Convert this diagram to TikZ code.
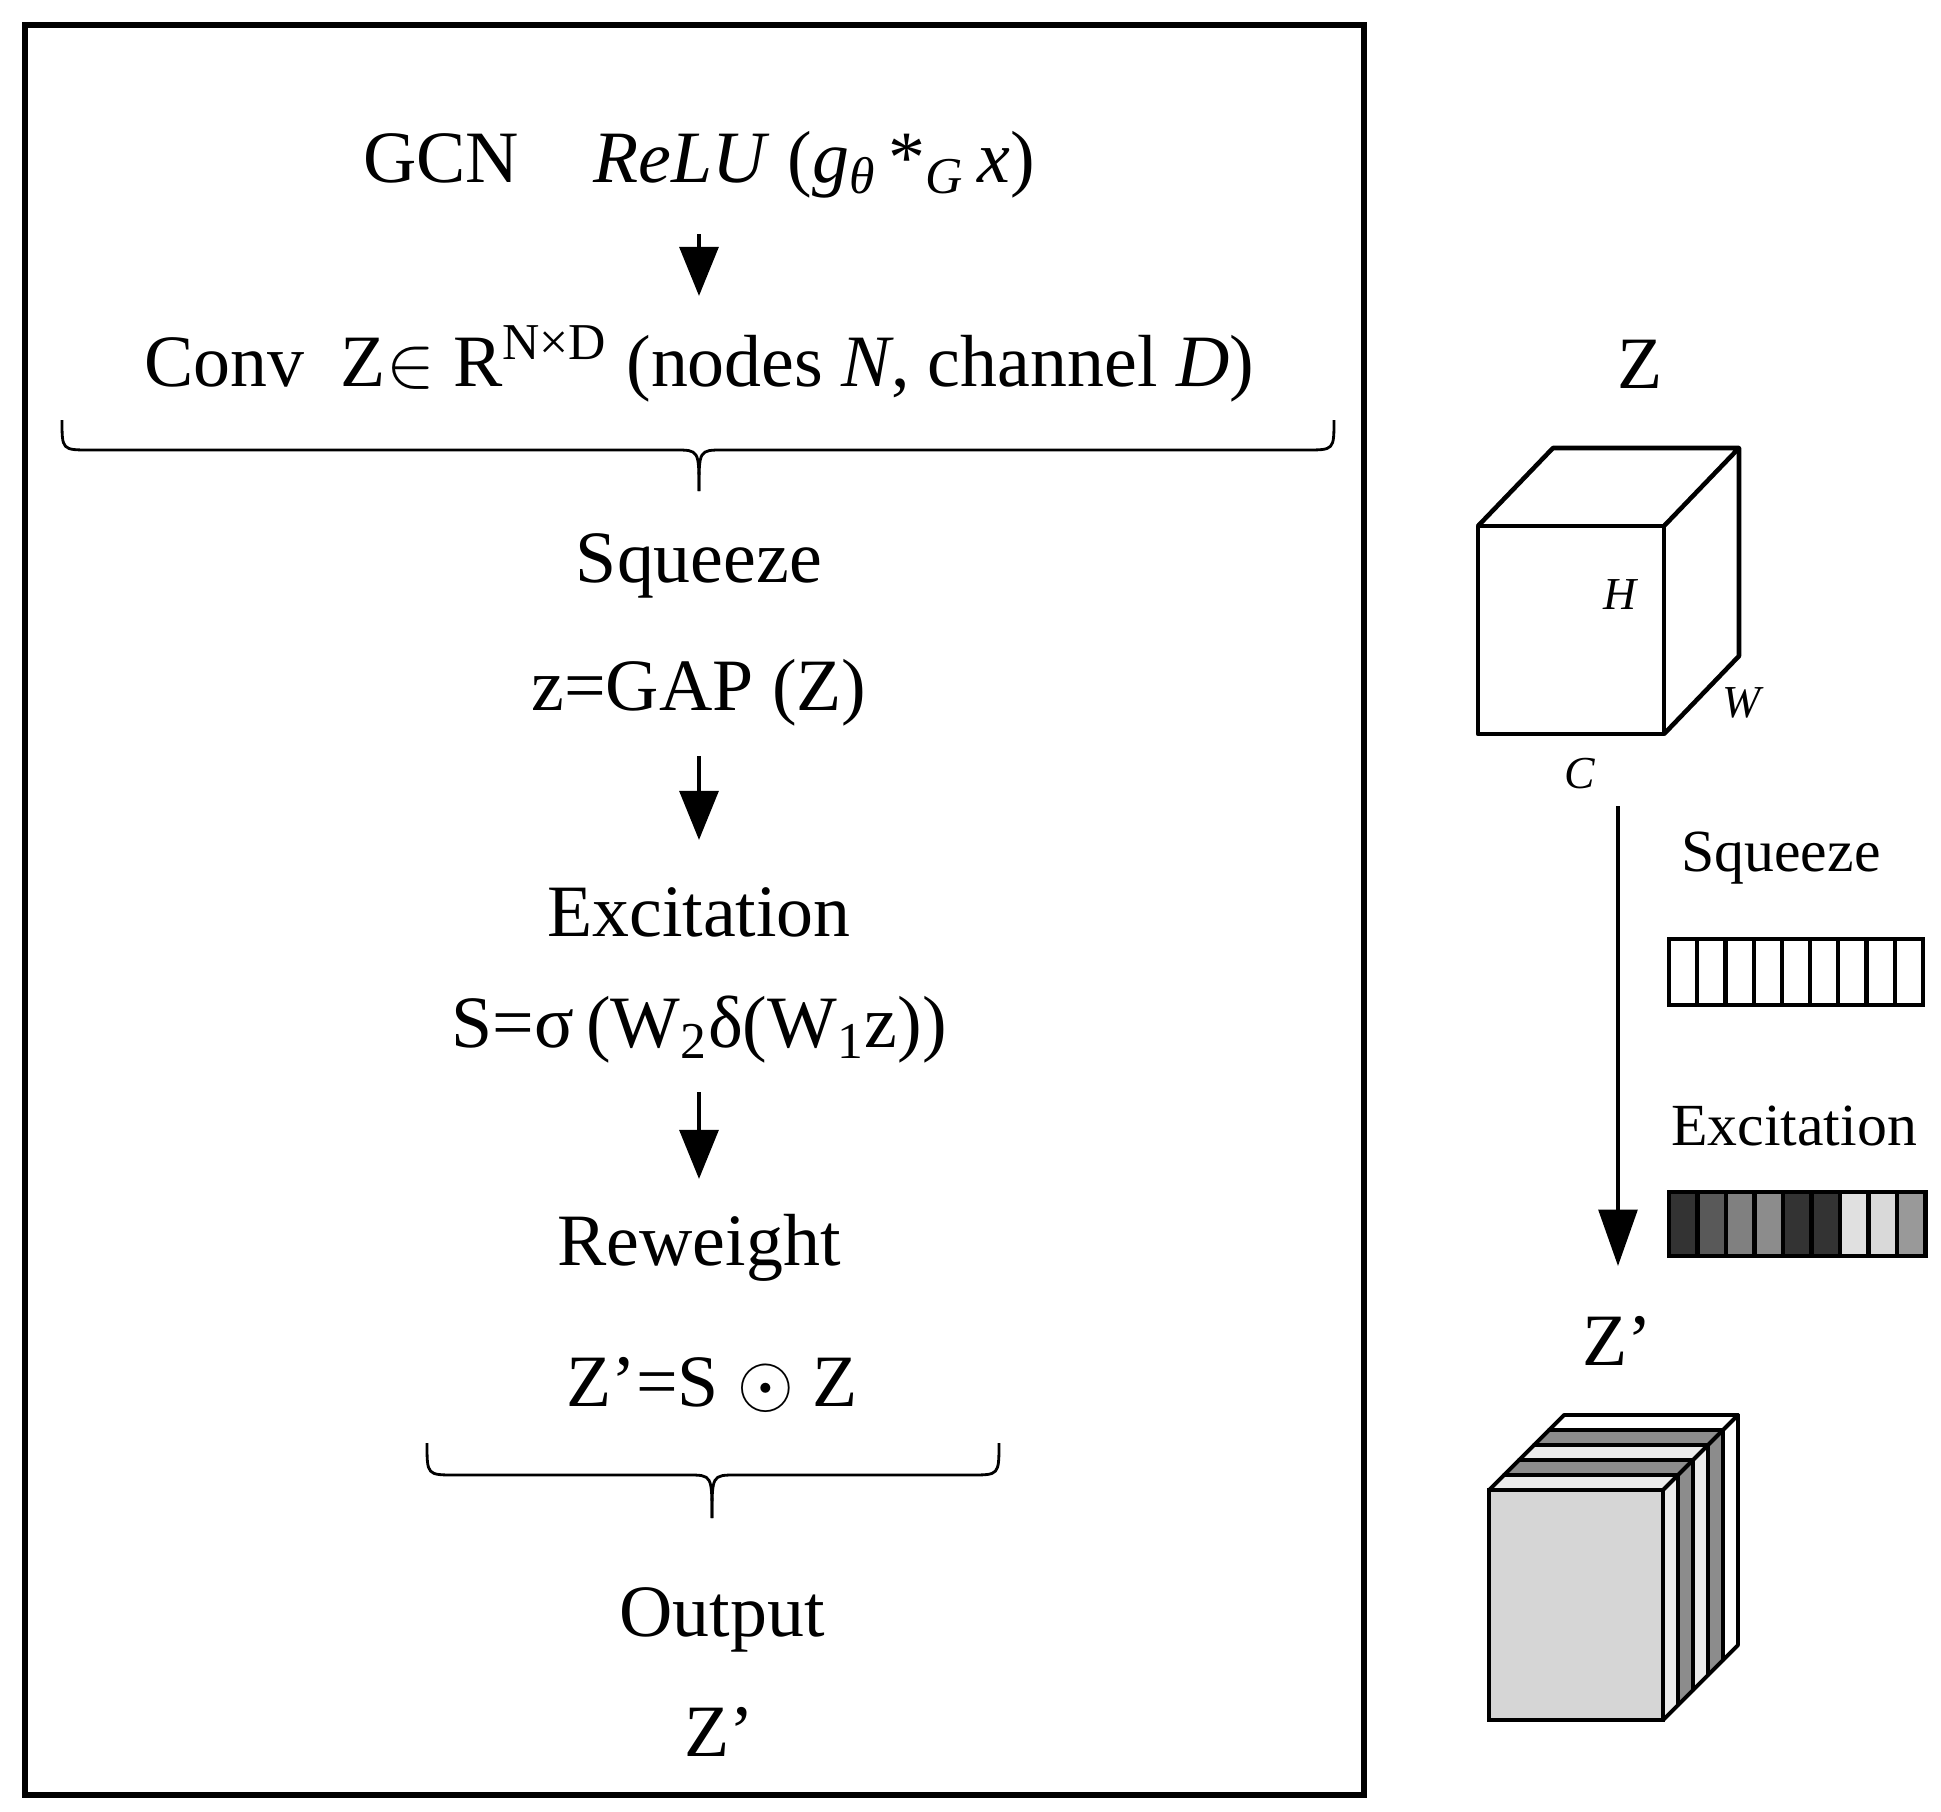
\documentclass[tikz,border=0pt]{standalone}
\usepackage{fontspec}
\setmainfont{Liberation Serif}
\usetikzlibrary{arrows.meta}
\begin{document}
\begin{tikzpicture}[x=0.01cm,y=-0.01cm,
  big/.style={font=\fontsize{21}{25}\selectfont, inner sep=0pt, anchor=center},
  small/.style={font=\fontsize{17}{20}\selectfont, inner sep=0pt, anchor=center},
  lab/.style={font=\fontsize{13}{15}\selectfont\itshape, inner sep=0pt},
  arr/.style={line width=1.3pt,-{Triangle[length=14pt,width=11pt]}},
  brc/.style={line width=0.8pt},
  edge/.style={line width=1.3pt, line join=round}]
\useasboundingbox (0,0) rectangle (1941,1812);
\draw[line width=1.6pt] (25,25) rectangle (1364,1795);
% left column
\node[big] (gcn) at (699,165) {GCN\quad \textit{ReLU} (\textit{g}\textsubscript{\textit{θ}}\,*\textsubscript{\textit{G}}\,\textit{x})};
\node[big] (conv) at (699,364) {Conv\enspace Z$\in$ R\textsuperscript{N×D} (nodes \textit{N}, channel \textit{D})};
\node[big] (sq) at (699,566) {Squeeze};
\node[big] (gap) at (699,693) {z=GAP (Z)};
\node[big] (ex) at (699,912) {Excitation};
\node[big] (sig) at (699,1030) {S=σ\,(W\textsubscript{2}δ(W\textsubscript{1}z))};
\node[big] (rw) at (699,1248) {Reweight};
\node[big] (zs) at (712,1385) {Z’=S $\odot$ Z};
\node[big] (out) at (722,1620) {Output};
\node[big] (zo) at (719,1732) {Z’};
\coordinate (a1s) at (699,234); \coordinate (a1e) at (699,296);
\coordinate (a2s) at (699,756); \coordinate (a2e) at (699,840);
\coordinate (a3s) at (699,1092); \coordinate (a3e) at (699,1179);
\draw[arr] (a1s) -- (a1e);
\draw[arr] (a2s) -- (a2e);
\draw[arr] (a3s) -- (a3e);
% braces
\coordinate (b1l) at (62,420); \coordinate (b1r) at (1334,420); \coordinate (b1m) at (699,491);
\draw[brc] (b1l) .. controls (62,450) .. (90,450) -- (675,450) .. controls (699,450) .. (b1m);
\draw[brc] (b1r) .. controls (1334,450) .. (1306,450) -- (723,450) .. controls (699,450) .. (b1m);
\coordinate (b2l) at (427,1443); \coordinate (b2r) at (999,1443); \coordinate (b2m) at (712,1518);
\draw[brc] (b2l) .. controls (427,1475) .. (455,1475) -- (688,1475) .. controls (712,1475) .. (b2m);
\draw[brc] (b2r) .. controls (999,1475) .. (971,1475) -- (736,1475) .. controls (712,1475) .. (b2m);
% right: cube
\node[big] (zr) at (1640,364) {Z};
\draw[edge] (1478,526) rectangle (1664,734);
\draw[edge] (1478,526) -- (1553,448) -- (1739,448) -- (1664,526);
\draw[edge] (1739,448) -- (1739,656) -- (1664,734);
\node[lab] (h) at (1620,595) {H};
\node[lab] (w) at (1742,703) {W};
\node[lab] (c) at (1580,774) {C};
\coordinate (ls) at (1618,806); \coordinate (le) at (1618,1266);
\draw[line width=1pt,-{Triangle[length=16pt,width=11pt]}] (ls) -- (le);
\node[small] (sqr) at (1781,858) {Squeeze};
\foreach \i in {0,...,8} \draw[line width=1.2pt] ({1669+\i*28.2},939) rectangle ({1669+(\i+1)*28.2},1005);
\node[small] (exr) at (1794,1126) {Excitation};
\foreach \i/\c in {0/black!80,1/black!65,2/black!50,3/black!45,4/black!80,5/black!80,6/black!12,7/black!15,8/black!40}
  \draw[line width=1.2pt, fill=\c] ({1669+\i*28.5},1192) rectangle ({1669+(\i+1)*28.5},1256);
\node[big] (zr2) at (1617,1341) {Z’};
% stacked slabs
\foreach \i/\c in {4/white,3/black!45,2/black!8,1/black!45,0/black!8}{
  \pgfmathsetmacro{\dx}{\i*15}
  \draw[line width=1.1pt, line join=round, fill=\c]
    ({1489+\dx},{1490-\dx}) -- ({1504+\dx},{1475-\dx}) -- ({1678+\dx},{1475-\dx}) -- ({1663+\dx},{1490-\dx}) -- cycle;
  \draw[line width=1.1pt, line join=round, fill=\c]
    ({1663+\dx},{1490-\dx}) -- ({1678+\dx},{1475-\dx}) -- ({1678+\dx},{1705-\dx}) -- ({1663+\dx},{1720-\dx}) -- cycle;
}
\draw[line width=1.3pt, fill=black!16] (1489,1490) rectangle (1663,1720);
\end{tikzpicture}
\end{document}
